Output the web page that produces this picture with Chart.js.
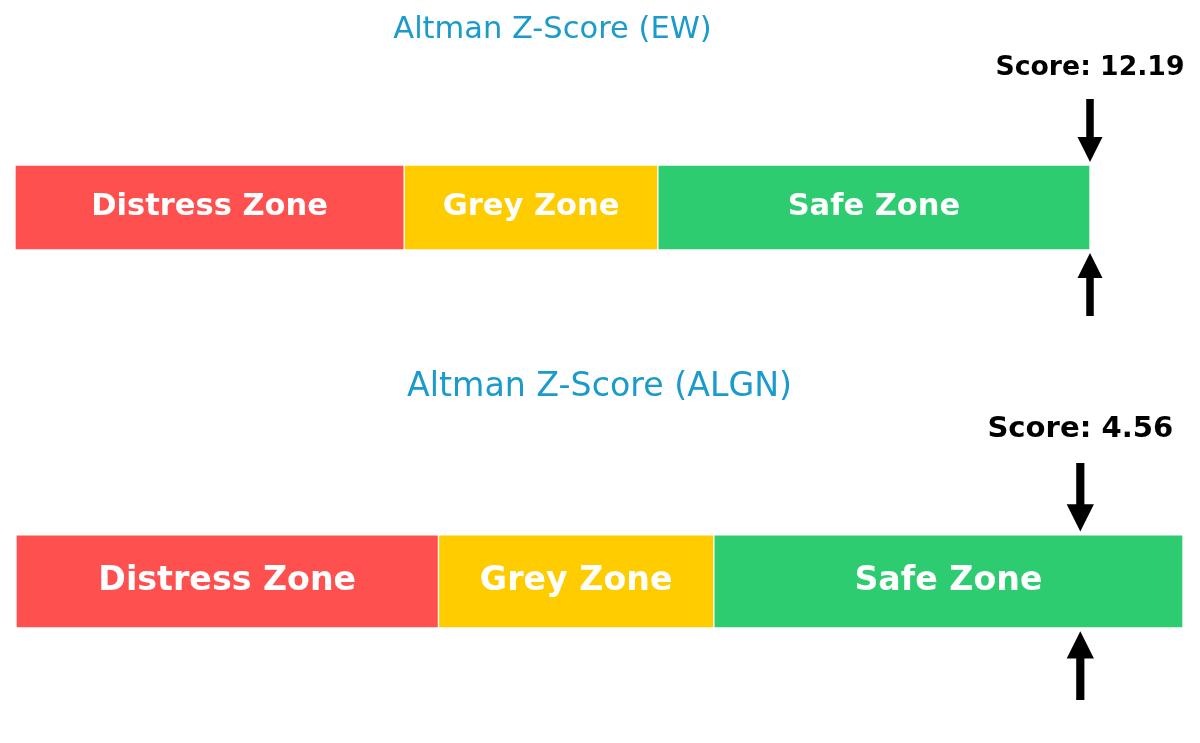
<!DOCTYPE html>
<html>
<head>
<meta charset="utf-8">
<script src="https://cdn.jsdelivr.net/npm/chart.js@4.4.0/dist/chart.umd.min.js"></script>
<style>
  html, body { margin: 0; padding: 0; background: #ffffff; }
  body { width: 1200px; height: 743px; position: relative; overflow: hidden; }
  .panel { position: absolute; left: 0; width: 1200px; }
</style>
</head>
<body>
<div class="panel" id="p1" style="top:0px;height:350px;"><canvas id="c1"></canvas></div>
<div class="panel" id="p2" style="top:350px;height:393px;"><canvas id="c2"></canvas></div>
<script>
// ---- data ----
const zoneNames = ["Distress Zone", "Grey Zone", "Safe Zone"];
const zoneEdges = [0, 1.81, 2.99, 5];
const zoneColors = ["#FF5050", "#FFCC00", "#2ECC71"];
const tickers = ["EW", "ALGN"];
const scores = [12.19, 4.56];
const axisMax = [5, 5];

const FONT = "'DejaVu Sans', 'Liberation Sans', sans-serif";

const panelStyles = [
  { s: 1.0,  pad: { left: 15, right: 110, bottom: 100 }, titleTop: 12, titleBottom: 116.4, canvasH: 350 },
  { s: 1.09, pad: { left: 16, right: 17, bottom: 115 }, titleTop: 17, titleBottom: 128, canvasH: 393 }
];

const zoneLabelPlugin = {
  id: 'zoneLabels',
  afterDatasetsDraw(chart) {
    const ctx = chart.ctx;
    const s = chart.options.plugins.zoneLabels.scale;
    ctx.save();
    ctx.fillStyle = '#ffffff';
    ctx.font = 'bold ' + (30.5 * s) + 'px ' + FONT;
    ctx.textAlign = 'center';
    ctx.textBaseline = 'middle';
    chart.data.datasets.forEach((ds, i) => {
      const el = chart.getDatasetMeta(i).data[0];
      const cx = (el.x + el.base) / 2;
      ctx.fillText(ds.label, cx, el.y);
    });
    ctx.restore();
  }
};

const scoreArrowPlugin = {
  id: 'scoreArrow',
  afterDraw(chart) {
    const o = chart.options.plugins.scoreArrow;
    const s = o.scale;
    const ctx = chart.ctx;
    const xs = chart.scales.x;
    const area = chart.chartArea;
    const v = Math.min(o.score, xs.max);
    const x = xs.getPixelForValue(v);
    const headL = 25 * s, headW = 25 * s, shaftW = 7.5 * s, total = 63 * s, gap = 3 * s;
    ctx.save();
    ctx.fillStyle = '#000000';
    // down arrow above bar
    let tip = area.top - gap;
    ctx.beginPath();
    ctx.moveTo(x - shaftW / 2, tip - total);
    ctx.lineTo(x + shaftW / 2, tip - total);
    ctx.lineTo(x + shaftW / 2, tip - headL);
    ctx.lineTo(x + headW / 2, tip - headL);
    ctx.lineTo(x, tip);
    ctx.lineTo(x - headW / 2, tip - headL);
    ctx.lineTo(x - shaftW / 2, tip - headL);
    ctx.closePath();
    ctx.fill();
    // up arrow below bar
    tip = area.bottom + gap;
    ctx.beginPath();
    ctx.moveTo(x - shaftW / 2, tip + total);
    ctx.lineTo(x + shaftW / 2, tip + total);
    ctx.lineTo(x + shaftW / 2, tip + headL);
    ctx.lineTo(x + headW / 2, tip + headL);
    ctx.lineTo(x, tip);
    ctx.lineTo(x - headW / 2, tip + headL);
    ctx.lineTo(x - shaftW / 2, tip + headL);
    ctx.closePath();
    ctx.fill();
    // score label
    ctx.font = 'bold ' + (26.7 * s) + 'px ' + FONT;
    ctx.textAlign = 'center';
    ctx.textBaseline = 'middle';
    ctx.fillText('Score: ' + o.score.toFixed(2), x, area.top - 97 * s);
    ctx.restore();
  }
};

function makeChart(canvasId, idx) {
  const st = panelStyles[idx];
  const datasets = zoneNames.map((name, i) => ({
    label: name,
    data: [[zoneEdges[i], zoneEdges[i + 1]]],
    backgroundColor: zoneColors[i],
    borderColor: '#ffffff',
    borderWidth: 1,
    borderSkipped: false,
    barPercentage: 1.0,
    categoryPercentage: 1.0
  }));
  return new Chart(document.getElementById(canvasId), {
    type: 'bar',
    data: { labels: [tickers[idx]], datasets },
    options: {
      indexAxis: 'y',
      responsive: true,
      maintainAspectRatio: false,
      animation: false,
      layout: { padding: { top: 0, left: st.pad.left, right: st.pad.right, bottom: st.pad.bottom } },
      scales: {
        x: { display: false, min: 0, max: axisMax[idx], stacked: false },
        y: { display: false, stacked: true }
      },
      plugins: {
        legend: { display: false },
        tooltip: { enabled: false },
        title: {
          display: true,
          text: 'Altman Z-Score (' + tickers[idx] + ')',
          color: '#1B9BCB',
          font: { family: FONT, size: 30.5 * st.s, weight: 'normal', lineHeight: 1.2 },
          padding: { top: st.titleTop, bottom: st.titleBottom }
        },
        zoneLabels: { scale: st.s },
        scoreArrow: { scale: st.s, score: scores[idx] }
      }
    },
    plugins: [zoneLabelPlugin, scoreArrowPlugin]
  });
}

makeChart('c1', 0);
makeChart('c2', 1);
</script>
</body>
</html>
